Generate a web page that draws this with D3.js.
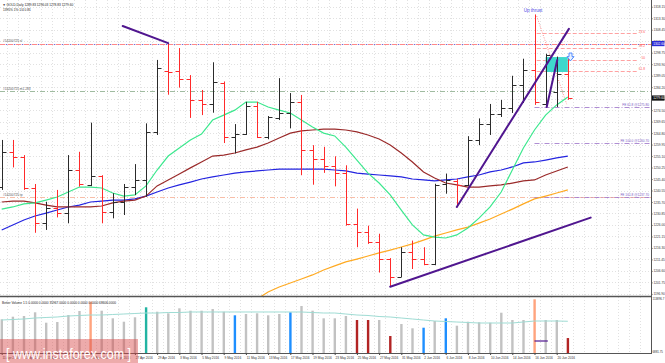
<!DOCTYPE html>
<html>
<head>
<meta charset="utf-8">
<script src="https://cdn.jsdelivr.net/npm/d3@7"></script>
<style>
body { margin: 0; background: #fff; }
svg { display: block; font-family: "Liberation Sans", Arial, sans-serif; }
</style>
</head>
<body>
<svg id="chart" width="665" height="363"></svg>
<script>
// daily GOLD bars, 11 Apr 2016 .. 21 Jun 2016
const dates = ["11 Apr 2016","12 Apr 2016","13 Apr 2016","14 Apr 2016","15 Apr 2016","18 Apr 2016","19 Apr 2016","20 Apr 2016","21 Apr 2016","22 Apr 2016",
  "25 Apr 2016","26 Apr 2016","27 Apr 2016","28 Apr 2016","29 Apr 2016","2 May 2016","3 May 2016","4 May 2016","5 May 2016","6 May 2016",
  "9 May 2016","10 May 2016","11 May 2016","12 May 2016","13 May 2016","16 May 2016","17 May 2016","18 May 2016","19 May 2016","20 May 2016",
  "23 May 2016","24 May 2016","25 May 2016","26 May 2016","27 May 2016","30 May 2016","31 May 2016","1 Jun 2016","2 Jun 2016","3 Jun 2016",
  "6 Jun 2016","7 Jun 2016","8 Jun 2016","9 Jun 2016","10 Jun 2016","13 Jun 2016","14 Jun 2016","15 Jun 2016","16 Jun 2016","17 Jun 2016",
  "20 Jun 2016","21 Jun 2016"];
const opens = [1242.0,1256.9,1254.6,1241.7,1226.9,1233.0,1231.2,1249.2,1242.9,1246.7,
  1231.6,1235.8,1242.2,1245.0,1265.4,1291.0,1291.0,1287.7,1278.8,1277.1,
  1286.0,1263.0,1264.4,1276.3,1263.0,1271.0,1273.2,1278.1,1257.6,1253.7,
  1250.8,1248.0,1226.2,1222.9,1218.6,1211.6,1204.1,1214.4,1211.6,1209.5,
  1243.4,1244.5,1242.7,1261.8,1268.5,1272.9,1275.3,1285.0,1291.3,1277.0,
  1282.0,1289.83];
const highs = [1261.9,1261.9,1255.5,1243.3,1235.8,1240.8,1255.5,1256.9,1269.2,1247.0,
  1239.4,1243.3,1251.7,1268.9,1295.7,1302.8,1300.7,1289.3,1283.0,1294.7,
  1286.6,1268.6,1278.0,1278.0,1272.0,1288.0,1281.7,1280.9,1259.7,1259.0,
  1255.0,1251.2,1232.9,1225.7,1222.3,1212.0,1216.6,1219.4,1216.6,1243.4,
  1247.7,1245.5,1263.5,1271.0,1277.1,1278.8,1289.0,1296.2,1314.9,1298.3,
  1297.1,1296.03];
const lows = [1240.8,1250.3,1240.8,1222.7,1223.9,1229.2,1226.7,1242.2,1242.4,1226.7,
  1228.8,1230.2,1238.6,1237.9,1264.0,1281.0,1284.0,1271.2,1272.4,1273.4,
  1260.6,1256.2,1264.0,1262.7,1262.2,1270.3,1266.8,1247.0,1243.0,1248.0,
  1242.3,1225.7,1216.6,1218.0,1205.9,1199.8,1204.0,1207.4,1209.0,1209.0,
  1239.2,1233.5,1242.4,1259.7,1264.0,1271.6,1273.3,1277.5,1276.7,1276.0,
  1275.8,1278.83];
const closes = [1256.8,1254.6,1241.7,1226.9,1233.0,1231.2,1249.2,1243.3,1246.7,1231.6,
  1235.8,1242.2,1245.0,1265.4,1292.1,1290.6,1287.7,1278.8,1277.1,1286.5,
  1263.0,1264.4,1276.3,1263.0,1271.8,1273.2,1278.1,1257.6,1253.7,1250.8,
  1248.0,1226.2,1222.9,1218.6,1211.6,1204.1,1214.4,1211.6,1209.5,1243.0,
  1244.8,1242.7,1261.8,1268.5,1272.9,1275.3,1285.0,1291.3,1278.0,1297.9,
  1289.8,1279.60];

// moving averages
const maFast = [1232.7,1233.6,1234.9,1235.3,1236.5,1237.8,1239.9,1242.0,1242.0,1241.6,
  1239.5,1238.2,1238.7,1242.5,1249.2,1255.1,1258.5,1261.9,1264.4,1270.3,
  1272.4,1274.5,1277.9,1277.9,1275.8,1274.5,1273.3,1270.3,1267.4,1264.8,
  1263.6,1258.9,1253.4,1247.9,1243.7,1238.7,1232.3,1226.0,1221.8,1220.9,
  1220.5,1221.8,1224.7,1228.9,1233.6,1239.9,1249.2,1258.5,1266.1,1272.4,
  1276.7,1280.0];
const maMid = [1235.7,1236.1,1236.1,1235.3,1234.4,1233.6,1233.6,1233.6,1233.6,1234.0,
  1235.3,1236.1,1236.5,1238.2,1242.5,1245.0,1247.5,1250.1,1252.6,1255.1,
  1255.5,1256.4,1257.7,1258.9,1260.6,1262.7,1264.8,1265.7,1266.1,1266.5,
  1266.5,1266.1,1265.3,1264.0,1262.3,1259.8,1256.4,1252.6,1248.4,1245.8,
  1243.7,1242.9,1242.0,1242.0,1242.5,1242.9,1243.7,1244.6,1245.0,1247.1,
  1248.8,1250.5];
const maSlow = [1223.9,1226.0,1228.1,1229.8,1231.0,1232.3,1233.6,1234.4,1235.7,1236.1,
  1236.5,1236.5,1237.0,1238.2,1239.9,1241.6,1242.9,1244.1,1245.4,1246.3,
  1247.1,1247.9,1248.4,1248.8,1249.2,1249.6,1249.6,1249.6,1249.6,1249.6,
  1249.2,1248.8,1247.9,1247.5,1247.1,1246.7,1246.3,1245.4,1245.0,1244.6,
  1245.0,1245.4,1246.3,1247.1,1248.4,1249.2,1250.5,1252.2,1252.6,1253.4,
  1254.3,1255.1];
const maLong = [null,null,null,null,null,null,null,null,null,null,
  null,null,null,null,null,null,null,null,null,null,
  null,null,null,1194.7,1197.7,1199.8,1201.5,1203.2,1204.9,1207.0,
  1208.7,1210.4,1211.6,1212.9,1214.2,1215.4,1216.7,1218.0,1219.6,1221.3,
  1222.6,1223.9,1225.1,1226.8,1228.5,1230.6,1232.7,1234.9,1237.0,1238.2,
  1239.5,1240.8];

// Better Volume
const volumes = [72450,77510,78870,86070,65830,67200,80820,88600,106690,89180,
  74400,67780,76340,95800,87240,84120,93850,89180,89180,92490,
  87240,80230,82760,84120,80230,82760,86070,98330,89180,74400,
  74400,78870,71090,71090,71090,39960,63310,54940,56110,69140,
  74400,60000,67780,66610,65830,85290,71090,71090,111360,71090,
  71090,35967];
const volKind = ["n","n","n","n","n","n","n","n","o","n",
  "n","n","n","t","n","n","n","n","n","n",
  "n","b","n","n","n","n","b","n","n","n",
  "n","n","r","r","n","r","n","n","b","n",
  "b","n","n","n","n","n","n","n","o","n",
  "n","r"];
const volAvg = [71090,72060,73040,74980,75960,76930,78870,79850,80820,80820,
  81790,82760,83740,84710,84710,85680,85680,86660,86660,86660,
  86660,86660,86660,86660,86660,86660,86660,86660,85680,84710,
  84710,82760,80820,79850,77900,76930,74980,73040,71090,69140,
  68170,67200,66230,65250,65250,65250,65250,67200,69140,69140,
  69140,68606];

const priceTicks = [1318.15,1313.30,1308.45,1303.60,1298.75,1293.90,1289.05,1284.20,1279.35,1274.50,
  1269.65,1264.80,1259.95,1255.10,1250.25,1245.40,1240.55,1235.70,1230.85,1226.00,
  1221.15,1216.30,1211.45,1206.60,1201.75,1196.90];

// drawn objects: [bar index, price]
const trendLines = [
  [[10.9, 1310.0], [15.0, 1302.8]],
  [[41.0, 1233.6], [51.1, 1308.8]],
  [[49.1, 1275.8], [50.05, 1295.7]],
  [[35.0, 1199.9], [53.06, 1229.1]]
];
const fiboLevels = [["23.6", 1306.9], ["38.2", 1300.7], ["50", 1295.7], ["61.8", 1291.0]];
const feLevels = [["FE 61.8 @1275.80", 1275.8], ["FE 100.0 @1260.70", 1260.7], ["FE 161.8 @1237.70", 1237.7]];
const orderLevels = [["#14200725 sl", 1302.6], ["#14200725 m1.283", 1282.6], ["#14200725 tp", 1237.7]];
const zoneBox = { from: 49, to: 51, top: 1296.9, bottom: 1290.6 };

const svg = d3.select("#chart");
const plotRight = 651, mainBottom = 296, volTop = 297, volBottom = 353;
const small = 3.2;

const x = d3.scaleLinear().domain([0, 51]).range([1.7, 567.8]);
const y = d3.scaleLinear().domain([1196, 1321]).range([mainBottom, 0]);
const yv = d3.scaleLinear().domain([6881.75, 113896.7]).range([volBottom, 298]);
const px = v => Math.round(v) + 0.5;

const defs = svg.append("defs");
defs.append("clipPath").attr("id", "clipMain").append("rect")
  .attr("x", 0).attr("y", 0).attr("width", plotRight).attr("height", mainBottom);
defs.append("clipPath").attr("id", "clipVol").append("rect")
  .attr("x", 0).attr("y", volTop).attr("width", plotRight).attr("height", volBottom - volTop);

// grid
const gridX = d3.range(0, 60).map(k => x(k + 0.5)).filter(v => v < plotRight);
const grid = svg.append("g").attr("stroke", "#d4d4d4").attr("stroke-dasharray", "1,2").attr("stroke-width", 0.7);
grid.selectAll("line.h").data(priceTicks).join("line")
  .attr("x1", 0).attr("x2", plotRight).attr("y1", d => px(y(d))).attr("y2", d => px(y(d)));
grid.selectAll("line.v").data(gridX).join("line")
  .attr("x1", d => px(d)).attr("x2", d => px(d)).attr("y1", 0).attr("y2", mainBottom);
grid.selectAll("line.vv").data(gridX).join("line")
  .attr("x1", d => px(d)).attr("x2", d => px(d)).attr("y1", volTop).attr("y2", volBottom);

const gMain = svg.append("g").attr("clip-path", "url(#clipMain)");

// horizontal order / price lines
const lvl = orderLevels;
gMain.append("line").attr("x1", 0).attr("x2", plotRight)
  .attr("y1", px(y(lvl[0][1]))).attr("y2", px(y(lvl[0][1])))
  .attr("stroke", "#ff7a7a").attr("stroke-width", 0.9).attr("stroke-dasharray", "5,3");
gMain.append("line").attr("x1", 0).attr("x2", plotRight)
  .attr("y1", px(y(lvl[0][1]))).attr("y2", px(y(lvl[0][1])))
  .attr("stroke", "#6a5acd").attr("stroke-width", 0.9).attr("stroke-dasharray", "1.5,6.5").attr("stroke-dashoffset", -5.8);
gMain.append("line").attr("x1", 0).attr("x2", plotRight)
  .attr("y1", px(y(lvl[1][1]))).attr("y2", px(y(lvl[1][1])))
  .attr("stroke", "#88aa88").attr("stroke-width", 0.8).attr("stroke-dasharray", "5,2,1,2");
gMain.append("line").attr("x1", 0).attr("x2", plotRight)
  .attr("y1", px(y(lvl[2][1]))).attr("y2", px(y(lvl[2][1])))
  .attr("stroke", "#f6ad92").attr("stroke-width", 0.8).attr("stroke-dasharray", "5,2,1,2");
gMain.selectAll("text.ord").data(orderLevels).join("text")
  .attr("x", 3).attr("y", d => y(d[1]) - 1.2)
  .attr("font-size", small).attr("fill", "#555").text(d => d[0]);

// fibo retracement
gMain.selectAll("line.fib").data(fiboLevels).join("line")
  .attr("x1", x(48.2)).attr("x2", 638)
  .attr("y1", d => px(y(d[1]))).attr("y2", d => px(y(d[1])))
  .attr("stroke", "#ff8a8a").attr("stroke-width", 0.8).attr("stroke-dasharray", "4,2");
gMain.selectAll("text.fib").data(fiboLevels).join("text")
  .attr("x", 645).attr("y", d => y(d[1]) - 0.8).attr("text-anchor", "end")
  .attr("font-size", small).attr("fill", "#ff5a5a").text(d => d[0]);
gMain.append("line")
  .attr("x1", x(48.2)).attr("y1", y(1314.2)).attr("x2", x(50.9)).attr("y2", y(1277.0))
  .attr("stroke", "#ff7070").attr("stroke-width", 0.8).attr("stroke-dasharray", "1,1.5");

// fibo expansion
gMain.selectAll("line.fe").data(feLevels).join("line")
  .attr("x1", x(48)).attr("x2", plotRight)
  .attr("y1", d => px(y(d[1]))).attr("y2", d => px(y(d[1])))
  .attr("stroke", "#9a70c8").attr("stroke-width", 0.8).attr("stroke-dasharray", "5,2,1,2");
gMain.selectAll("text.fe").data(feLevels).join("text")
  .attr("x", 649).attr("y", d => y(d[1]) - 1).attr("text-anchor", "end")
  .attr("font-size", small).attr("fill", "#7b5cc4").text(d => d[0]);

// zone box
gMain.append("rect")
  .attr("x", x(zoneBox.from)).attr("y", y(zoneBox.top))
  .attr("width", x(zoneBox.to) - x(zoneBox.from)).attr("height", y(zoneBox.bottom) - y(zoneBox.top))
  .attr("fill", "#3fd8cc");

// moving averages
const maLine = d3.line().defined(v => v != null).x((v, i) => x(i)).y(v => y(v));
[[maLong, "#ffaa22"], [maSlow, "#2424e0"], [maMid, "#9a2a2a"], [maFast, "#3ce88e"]].forEach(([s, c]) => {
  gMain.append("path").attr("d", maLine(s)).attr("fill", "none")
    .attr("stroke", c).attr("stroke-width", 1.2);
});

// price bars
const idx = d3.range(dates.length);
const bars = gMain.selectAll("g.bar").data(idx).join("g")
  .attr("stroke", i => closes[i] >= opens[i] ? "#2b2b2b" : "#ff2a2a")
  .attr("stroke-width", 1);
bars.append("line")
  .attr("x1", i => px(x(i))).attr("x2", i => px(x(i)))
  .attr("y1", i => y(highs[i])).attr("y2", i => y(lows[i]));
bars.append("line")
  .attr("x1", i => px(x(i)) - 4).attr("x2", i => px(x(i)))
  .attr("y1", i => px(y(opens[i]))).attr("y2", i => px(y(opens[i])));
bars.append("line")
  .attr("x1", i => px(x(i))).attr("x2", i => px(x(i)) + 4)
  .attr("y1", i => px(y(closes[i]))).attr("y2", i => px(y(closes[i])));

// trend lines
gMain.selectAll("line.tl").data(trendLines).join("line")
  .attr("x1", d => x(d[0][0])).attr("y1", d => y(d[0][1]))
  .attr("x2", d => x(d[1][0])).attr("y2", d => y(d[1][1]))
  .attr("stroke", "#50168f").attr("stroke-width", 2).attr("stroke-linecap", "round");

// arrow
const ax = x(51.2) + 0.5, ay = y(1298.6);
gMain.append("path")
  .attr("d", `M${ax - 1.5},${ay} h3 v3.6 h2 l-3.5,4.2 l-3.5,-4.2 h2 z`)
  .attr("fill", "#eaf2ff").attr("stroke", "#3f7fff").attr("stroke-width", 0.9);

gMain.append("text").attr("x", 533).attr("y", 11.5).attr("text-anchor", "middle")
  .attr("font-size", 4.6).attr("fill", "#4a4ae6").text("Up thrust");

// header
svg.append("text").attr("x", 2.5).attr("y", 5.5).attr("font-size", small).attr("fill", "#222")
  .text("\u25BC GOLD,Daily  1289.83 1296.03 1278.83 1279.60");
svg.append("text").attr("x", 3).attr("y", 11).attr("font-size", small).attr("fill", "#222")
  .text("1395%     1% 1/4     0.81");

// price axis
const axisG = svg.append("g").attr("transform", `translate(${plotRight},0)`)
  .call(d3.axisRight(y).tickValues(priceTicks).tickFormat(d3.format(".2f")).tickSize(1.5).tickPadding(1));
axisG.select(".domain").remove();
axisG.selectAll("line").attr("stroke", "#444");
axisG.selectAll("text").attr("font-size", small).attr("fill", "#333").attr("font-family", "Liberation Sans, Arial, sans-serif");

const tags = [[1302.6, "#2b2bd6"], [1279.6, "#111"]];
tags.forEach(([p, c]) => {
  svg.append("rect").attr("x", plotRight + 0.5).attr("y", y(p) - 2.6).attr("width", 13).attr("height", 5.2).attr("fill", c);
  svg.append("text").attr("x", plotRight + 2.2).attr("y", y(p) + 1.2).attr("font-size", small).attr("fill", "#fff")
    .text(d3.format(".2f")(p));
});

// volume panel
const gVol = svg.append("g").attr("clip-path", "url(#clipVol)");
const volColor = { n: "#c2c2c2", o: "#ffa47e", t: "#22b4a2", b: "#1e8fff", r: "#b22424" };
gVol.selectAll("rect.vb").data(idx).join("rect")
  .attr("x", i => x(i) - 1.1).attr("width", 2.4)
  .attr("y", i => yv(volumes[i])).attr("height", i => volBottom - yv(volumes[i]))
  .attr("fill", i => volColor[volKind[i]]);
gVol.append("path").attr("d", d3.line().x((v, i) => x(i)).y(v => yv(v))(volAvg))
  .attr("fill", "none").attr("stroke", "#9fdcd4").attr("stroke-width", 1);
gVol.append("line").attr("x1", x(48)).attr("x2", x(49.2))
  .attr("y1", yv(30230)).attr("y2", yv(30230))
  .attr("stroke", "#50168f").attr("stroke-width", 1.2);
svg.append("text").attr("x", 2).attr("y", 303.5).attr("font-size", small).attr("fill", "#222")
  .text("Better Volume 1.5 0.0000 0.0000 35967.0000 0.0000 0.0000 0.0000 68606.0000");
svg.append("text").attr("x", plotRight + 1.5).attr("y", 300).attr("font-size", 2.9).attr("fill", "#333").text("113896.7");
svg.append("text").attr("x", plotRight + 1.5).attr("y", 352.5).attr("font-size", 2.9).attr("fill", "#333").text("6881.75");

// frame
svg.append("line").attr("x1", 0).attr("x2", plotRight).attr("y1", 296.5).attr("y2", 296.5).attr("stroke", "#555").attr("stroke-width", 1.4);
svg.append("line").attr("x1", 0).attr("x2", plotRight).attr("y1", volBottom + 0.5).attr("y2", volBottom + 0.5).attr("stroke", "#555");
svg.append("line").attr("x1", plotRight + 0.5).attr("x2", plotRight + 0.5).attr("y1", 0).attr("y2", volBottom + 1).attr("stroke", "#555");

// time axis
const labelIdx = idx.filter(i => i % 2 === 0);
const xAxis = svg.append("g").attr("transform", `translate(0,${volBottom + 0.5})`)
  .call(d3.axisBottom(x).tickValues(labelIdx).tickFormat(i => dates[i]).tickSize(1.5).tickPadding(1.5));
xAxis.select(".domain").remove();
xAxis.selectAll("line").attr("stroke", "#444");
xAxis.selectAll("text").attr("font-size", small).attr("fill", "#333").attr("text-anchor", "start")
  .attr("dx", 0.3).attr("font-family", "Liberation Sans, Arial, sans-serif");

// watermark
svg.append("rect").attr("x", 0).attr("y", 339).attr("width", 138).attr("height", 24)
  .attr("fill", "#d84848").attr("opacity", 0.46);
svg.append("text").attr("x", 6).attr("y", 359).attr("font-size", 15).attr("fill", "#fff")
  .attr("textLength", 125).attr("lengthAdjust", "spacingAndGlyphs")
  .text("[ www.instaforex.com ]");
</script>
</body>
</html>
